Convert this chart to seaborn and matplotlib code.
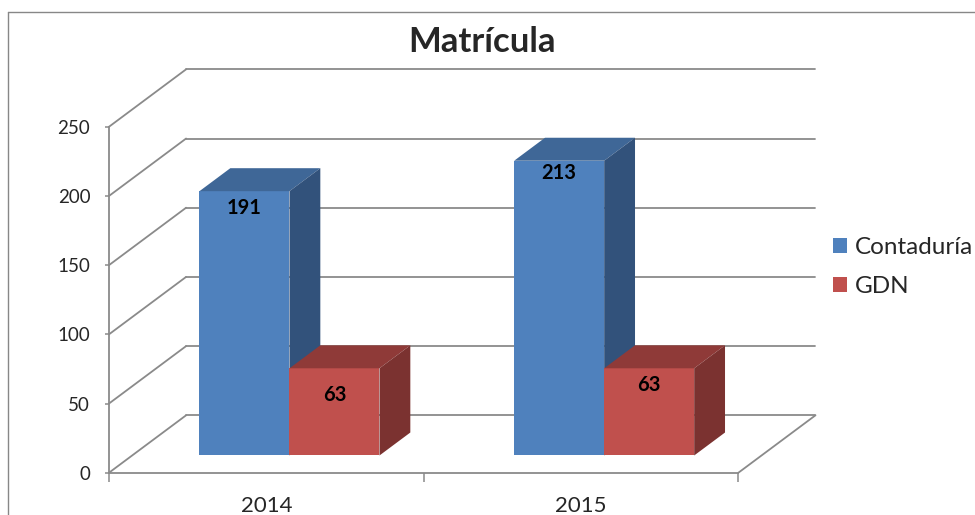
import pandas as pd
import matplotlib
matplotlib.use('Agg')
import matplotlib.pyplot as plt
from matplotlib.patches import Polygon, Patch
from matplotlib.lines import Line2D
import seaborn as sns

# Chart data
years = ['2014', '2015']
programs = ['Contaduría', 'GDN']
contaduria = [191, 213]
gdn = [63, 63]
yticks = [0, 50, 100, 150, 200, 250]
title = 'Matrícula'

front_colors = ['#4F81BD', '#C0504D']
top_colors = ['#3F6797', '#8F3A38']
side_colors = ['#32527B', '#7B3230']
grid_color = '#8A8A8A'
# how far each value label sits below its bar top (value units), per series/year
label_drop = [[12.5, 9.1], [19.3, 12.1]]

df = pd.DataFrame({
    'year': years * 2,
    'program': [programs[0]] * len(years) + [programs[1]] * len(years),
    'value': contaduria + gdn,
})

sns.set_theme(style='white')
plt.rcParams['font.family'] = ['Lato', 'DejaVu Sans']

# oblique depth of the floor, in data units (categories, values)
DX, DY = 0.245, 41.5
d0, d1 = 0.3, 0.7  # bar front / back depth as fraction of floor depth

fig = plt.figure(figsize=(9.75, 5.15), dpi=100)
ax = fig.add_axes([0.1118, 0.0821, 0.7246, 0.7833])

sns.barplot(data=df, x='year', y='value', hue='program', palette=front_colors,
            width=0.572, saturation=1, errorbar=None, legend=False,
            linewidth=0, ax=ax)

ymax = yticks[-1]
x0, x1 = -0.5, len(years) - 0.5

# back wall and left wall gridlines
for v in yticks:
    ax.plot([x0 + DX, x1 + DX], [v + DY, v + DY], color=grid_color, lw=1.3, zorder=1, clip_on=False)
    ax.plot([x0, x0 + DX], [v, v + DY], color=grid_color, lw=1.3, zorder=1, clip_on=False)
# right floor edge
ax.plot([x1, x1 + DX], [0, DY], color=grid_color, lw=1.3, zorder=1, clip_on=False)

# turn flat bars into boxes
t = d1 - d0
for i, cont in enumerate(ax.containers):
    for j, bar in enumerate(cont):
        bx = bar.get_x() + d0 * DX
        by = d0 * DY
        w = bar.get_width()
        h = bar.get_height()
        z = 3 + j * 2 + i
        bar.set_x(bx)
        bar.set_y(by)
        bar.set_zorder(z)
        top = Polygon([(bx, by + h), (bx + w, by + h), (bx + w + t * DX, by + h + t * DY),
                       (bx + t * DX, by + h + t * DY)], closed=True,
                      facecolor=top_colors[i], edgecolor='none', zorder=z)
        side = Polygon([(bx + w, by), (bx + w + t * DX, by + t * DY),
                        (bx + w + t * DX, by + h + t * DY), (bx + w, by + h)], closed=True,
                       facecolor=side_colors[i], edgecolor='none', zorder=z)
        ax.add_patch(top)
        ax.add_patch(side)
        ax.text(bx + w / 2, by + h - label_drop[i][j], f'{int(h)}', ha='center', va='center',
                fontsize=14.5, fontweight='bold', color='black', zorder=z)

ax.set_xlim(x0, x1 + DX)
ax.set_ylim(0, ymax + DY)
ax.set_yticks(yticks)
ax.set_xticks(range(len(years)))
ax.set_xticklabels(years)
ax.set_xticks([x0 + k for k in range(len(years) + 1)], minor=True)
ax.set_xlabel('')
ax.set_ylabel('')

for s in ['top', 'right']:
    ax.spines[s].set_visible(False)
ax.spines['left'].set_bounds(0, ymax)
ax.spines['bottom'].set_bounds(x0, x1)
for s in ['left', 'bottom']:
    ax.spines[s].set_color(grid_color)
    ax.spines[s].set_linewidth(1.3)
    ax.spines[s].set_zorder(2)

ax.tick_params(axis='y', which='major', direction='out', length=3, width=1.1,
               color=grid_color, labelsize=13.5, pad=10.5, left=True)
ax.tick_params(axis='x', which='major', length=0, labelsize=16, pad=17)
ax.tick_params(axis='x', which='minor', direction='out', length=6.5, width=1.1,
               color=grid_color, bottom=True)
ax.patch.set_visible(False)

handles = [Patch(facecolor=c, edgecolor='none') for c in front_colors]
fig.legend(handles, programs, loc='center left', bbox_to_anchor=(833 / 975, 1 - 267 / 515),
           frameon=False, fontsize=17.5, handlelength=0.58, handleheight=0.58,
           handletextpad=0.3, labelspacing=0.75, borderpad=0, borderaxespad=0)

fig.text(482 / 975, 1 - 52.3 / 515, title, ha='center', va='baseline',
         fontsize=25, fontweight='bold')

# chart area border
fig.add_artist(Line2D([8 / 975, 8 / 975], [0, 1 - 12 / 515], transform=fig.transFigure,
                      color='#878787', lw=1))
fig.add_artist(Line2D([8 / 975, 1], [1 - 12 / 515, 1 - 12 / 515], transform=fig.transFigure,
                      color='#878787', lw=1))

fig.savefig('out.png', dpi=100, facecolor='white')
